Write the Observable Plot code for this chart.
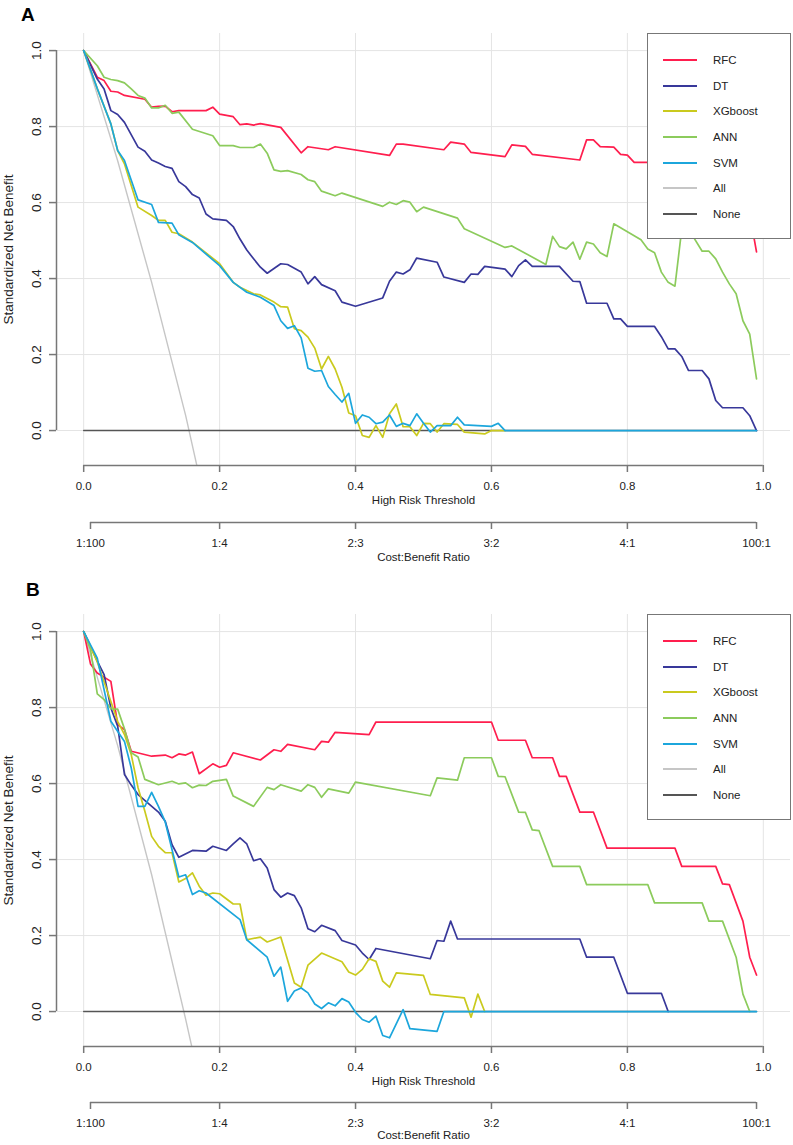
<!DOCTYPE html>
<html>
<head>
<meta charset="utf-8">
<script src="https://cdn.jsdelivr.net/npm/d3@7"></script>
<script src="https://cdn.jsdelivr.net/npm/@observablehq/plot@0.6"></script>
<style>
  html, body { margin: 0; padding: 0; background: #fff; }
  #root { position: relative; width: 793px; height: 1145px; font-family: "Liberation Sans", Arial, sans-serif; color: #222; }
  .panel { position: absolute; left: 0; }
  .tag { position: absolute; font-weight: bold; font-size: 19px; line-height: 1; color: #000; }
  .legend { position: absolute; box-sizing: border-box; background: #fff; border: 1.5px solid #777; }
  .legend .key { position: absolute; height: 0; }
  .legend .key .sw { position: absolute; left: 15px; width: 34px; top: -1px; height: 2px; }
  .legend .key .lb { position: absolute; left: 65px; top: -8px; font-size: 11.5px; line-height: 16px; color: #222; white-space: nowrap; }
</style>
</head>
<body>
<div id="root"></div>
<script>
// ---------- data ----------
const models = ["RFC", "DT", "XGboost", "ANN", "SVM", "All", "None"];
const colors = ["#FF1E4E", "#38389A", "#CACA1E", "#8CCB5C", "#1CA6DC", "#C6C6C6", "#555555"];

const xTicks = [0, 0.2, 0.4, 0.6, 0.8, 1.0];
const yTicks = [0, 0.2, 0.4, 0.6, 0.8, 1.0];
const costPos = [0.01, 0.2, 0.4, 0.6, 0.8, 0.99];
const costLabels = ["1:100", "1:4", "2:3", "3:2", "4:1", "100:1"];
const xDomain = [-0.04, 1.04];
const yDomain = [-0.092, 1.045];
const xTitle = "High Risk Threshold";
const costTitle = "Cost:Benefit Ratio";
const yTitle = "Standardized Net Benefit";

// Panel A: [threshold, standardized net benefit]
const rfcA = [[0,1],[0.02,0.93],[0.03,0.921],[0.04,0.893],[0.05,0.891],[0.06,0.882],[0.09,0.872],[0.10,0.851],[0.11,0.853],[0.12,0.854],[0.13,0.839],[0.14,0.842],[0.18,0.842],[0.19,0.851],[0.20,0.833],[0.22,0.826],[0.23,0.805],[0.24,0.807],[0.25,0.804],[0.26,0.808],[0.29,0.798],[0.32,0.731],[0.33,0.747],[0.36,0.739],[0.37,0.747],[0.45,0.724],[0.46,0.754],[0.47,0.754],[0.53,0.739],[0.54,0.759],[0.56,0.754],[0.57,0.732],[0.62,0.721],[0.63,0.752],[0.65,0.748],[0.66,0.727],[0.73,0.712],[0.74,0.765],[0.75,0.765],[0.76,0.747],[0.78,0.746],[0.79,0.727],[0.80,0.725],[0.81,0.706],[0.83,0.706],[0.86,0.70],[0.90,0.69],[0.94,0.66],[0.97,0.62],[0.985,0.52],[0.99,0.47]];
const dtA = [[0,1],[0.02,0.925],[0.03,0.899],[0.04,0.842],[0.05,0.832],[0.06,0.811],[0.08,0.746],[0.09,0.735],[0.10,0.712],[0.11,0.704],[0.12,0.695],[0.13,0.69],[0.14,0.655],[0.15,0.642],[0.16,0.621],[0.17,0.612],[0.18,0.57],[0.19,0.557],[0.21,0.553],[0.22,0.537],[0.23,0.504],[0.24,0.475],[0.25,0.452],[0.26,0.43],[0.27,0.414],[0.29,0.439],[0.30,0.437],[0.31,0.427],[0.32,0.417],[0.33,0.386],[0.34,0.405],[0.35,0.384],[0.37,0.368],[0.38,0.338],[0.40,0.327],[0.44,0.349],[0.45,0.393],[0.46,0.417],[0.47,0.412],[0.48,0.423],[0.49,0.454],[0.52,0.443],[0.53,0.404],[0.56,0.39],[0.57,0.412],[0.58,0.411],[0.59,0.432],[0.62,0.425],[0.63,0.405],[0.64,0.434],[0.65,0.449],[0.66,0.432],[0.70,0.432],[0.72,0.393],[0.73,0.392],[0.74,0.335],[0.77,0.335],[0.78,0.294],[0.79,0.294],[0.80,0.274],[0.84,0.274],[0.85,0.247],[0.86,0.215],[0.87,0.215],[0.88,0.195],[0.89,0.158],[0.91,0.158],[0.92,0.136],[0.93,0.079],[0.94,0.06],[0.97,0.06],[0.98,0.039],[0.99,0]];
const xgbA = [[0,1],[0.02,0.9],[0.04,0.807],[0.05,0.737],[0.06,0.702],[0.08,0.588],[0.10,0.566],[0.11,0.553],[0.12,0.553],[0.13,0.522],[0.14,0.518],[0.16,0.496],[0.20,0.439],[0.22,0.39],[0.23,0.377],[0.25,0.36],[0.26,0.357],[0.28,0.338],[0.29,0.326],[0.30,0.325],[0.31,0.268],[0.32,0.263],[0.33,0.246],[0.34,0.217],[0.35,0.162],[0.36,0.195],[0.37,0.162],[0.38,0.114],[0.39,0.046],[0.40,0.039],[0.41,-0.013],[0.42,-0.018],[0.43,0.013],[0.44,-0.018],[0.45,0.044],[0.46,0.07],[0.47,0.01],[0.48,0.01],[0.49,-0.013],[0.50,0.019],[0.51,0.018],[0.52,-0.004],[0.53,0.018],[0.55,0.016],[0.56,-0.004],[0.59,-0.009],[0.60,0],[0.62,0]];
const annA = [[0,1],[0.02,0.96],[0.03,0.93],[0.04,0.924],[0.05,0.921],[0.06,0.915],[0.07,0.899],[0.08,0.882],[0.09,0.875],[0.10,0.849],[0.11,0.849],[0.12,0.856],[0.13,0.835],[0.14,0.838],[0.16,0.793],[0.19,0.776],[0.20,0.75],[0.22,0.75],[0.23,0.745],[0.25,0.745],[0.26,0.754],[0.27,0.73],[0.28,0.686],[0.29,0.682],[0.30,0.684],[0.32,0.674],[0.33,0.66],[0.34,0.655],[0.35,0.63],[0.37,0.618],[0.38,0.625],[0.44,0.59],[0.45,0.601],[0.46,0.595],[0.47,0.605],[0.48,0.601],[0.49,0.576],[0.50,0.588],[0.55,0.559],[0.56,0.531],[0.62,0.482],[0.63,0.486],[0.68,0.437],[0.69,0.511],[0.70,0.484],[0.71,0.478],[0.72,0.496],[0.73,0.451],[0.74,0.496],[0.75,0.491],[0.76,0.468],[0.77,0.458],[0.78,0.544],[0.82,0.502],[0.83,0.478],[0.84,0.468],[0.85,0.417],[0.86,0.39],[0.87,0.38],[0.88,0.53],[0.89,0.53],[0.91,0.472],[0.92,0.472],[0.93,0.452],[0.94,0.417],[0.95,0.386],[0.96,0.36],[0.97,0.289],[0.98,0.254],[0.99,0.136]];
const svmA = [[0,1],[0.02,0.9],[0.04,0.807],[0.05,0.737],[0.06,0.711],[0.08,0.607],[0.10,0.595],[0.11,0.548],[0.13,0.546],[0.14,0.515],[0.16,0.495],[0.20,0.434],[0.22,0.39],[0.24,0.364],[0.26,0.351],[0.28,0.329],[0.29,0.289],[0.30,0.269],[0.31,0.276],[0.32,0.244],[0.33,0.164],[0.34,0.156],[0.35,0.158],[0.36,0.116],[0.37,0.095],[0.38,0.075],[0.39,0.098],[0.40,0.019],[0.41,0.041],[0.42,0.035],[0.43,0.018],[0.44,0.022],[0.45,0.041],[0.46,0.011],[0.47,0.019],[0.48,0.013],[0.49,0.044],[0.50,0.019],[0.51,-0.004],[0.52,0.013],[0.54,0.013],[0.55,0.035],[0.56,0.015],[0.60,0.011],[0.61,0.019],[0.62,0],[0.99,0]];
const allA = [[0,1],[0.05,0.71],[0.10,0.39],[0.15,0.04],[0.17,-0.12]];
const noneA = [[0,0],[0.99,0]];

// Panel B
const rfcB = [[0,1],[0.01,0.915],[0.02,0.891],[0.04,0.869],[0.05,0.755],[0.06,0.742],[0.07,0.685],[0.10,0.672],[0.12,0.675],[0.13,0.668],[0.14,0.678],[0.15,0.675],[0.16,0.683],[0.17,0.626],[0.19,0.652],[0.20,0.643],[0.21,0.648],[0.22,0.681],[0.26,0.662],[0.28,0.689],[0.29,0.685],[0.30,0.703],[0.34,0.689],[0.35,0.711],[0.36,0.709],[0.37,0.735],[0.42,0.729],[0.43,0.762],[0.60,0.762],[0.61,0.714],[0.65,0.714],[0.66,0.668],[0.69,0.668],[0.70,0.619],[0.71,0.619],[0.73,0.525],[0.75,0.525],[0.77,0.43],[0.87,0.43],[0.88,0.382],[0.93,0.382],[0.94,0.336],[0.95,0.334],[0.97,0.238],[0.98,0.143],[0.99,0.096]];
const dtB = [[0,1],[0.02,0.922],[0.03,0.887],[0.04,0.799],[0.05,0.751],[0.06,0.624],[0.07,0.596],[0.08,0.571],[0.11,0.525],[0.12,0.501],[0.13,0.439],[0.14,0.406],[0.16,0.424],[0.18,0.422],[0.19,0.435],[0.21,0.424],[0.22,0.441],[0.23,0.457],[0.24,0.441],[0.25,0.397],[0.26,0.402],[0.27,0.378],[0.28,0.321],[0.29,0.301],[0.30,0.312],[0.31,0.305],[0.32,0.273],[0.33,0.218],[0.34,0.21],[0.35,0.227],[0.37,0.213],[0.38,0.187],[0.40,0.175],[0.41,0.154],[0.42,0.137],[0.43,0.166],[0.51,0.139],[0.52,0.187],[0.53,0.185],[0.54,0.238],[0.55,0.191],[0.73,0.191],[0.74,0.143],[0.78,0.143],[0.80,0.048],[0.85,0.048],[0.86,0]];
const xgbB = [[0,1],[0.02,0.92],[0.05,0.764],[0.06,0.729],[0.07,0.676],[0.08,0.589],[0.09,0.527],[0.10,0.461],[0.11,0.435],[0.12,0.418],[0.13,0.418],[0.14,0.341],[0.15,0.35],[0.16,0.365],[0.17,0.33],[0.18,0.306],[0.19,0.312],[0.20,0.31],[0.22,0.283],[0.23,0.283],[0.24,0.189],[0.26,0.196],[0.27,0.183],[0.29,0.196],[0.31,0.075],[0.32,0.064],[0.33,0.122],[0.35,0.154],[0.38,0.131],[0.39,0.104],[0.40,0.096],[0.41,0.111],[0.42,0.139],[0.43,0.132],[0.44,0.08],[0.45,0.064],[0.46,0.102],[0.50,0.095],[0.51,0.045],[0.56,0.036],[0.57,-0.015],[0.58,0.046],[0.59,0]];
const annB = [[0,1],[0.01,0.953],[0.02,0.836],[0.03,0.821],[0.04,0.797],[0.05,0.796],[0.06,0.744],[0.07,0.681],[0.08,0.67],[0.09,0.611],[0.11,0.597],[0.13,0.606],[0.14,0.599],[0.15,0.602],[0.16,0.589],[0.17,0.596],[0.18,0.595],[0.19,0.606],[0.21,0.611],[0.22,0.567],[0.25,0.54],[0.27,0.59],[0.28,0.584],[0.29,0.597],[0.32,0.58],[0.33,0.597],[0.34,0.59],[0.35,0.564],[0.36,0.586],[0.39,0.575],[0.40,0.604],[0.51,0.568],[0.52,0.615],[0.55,0.609],[0.56,0.668],[0.60,0.668],[0.61,0.619],[0.62,0.618],[0.64,0.525],[0.65,0.524],[0.66,0.478],[0.67,0.476],[0.69,0.382],[0.73,0.382],[0.74,0.334],[0.83,0.334],[0.84,0.286],[0.91,0.286],[0.92,0.238],[0.94,0.238],[0.96,0.143],[0.97,0.046],[0.98,0]];
const svmB = [[0,1],[0.02,0.93],[0.04,0.764],[0.06,0.711],[0.07,0.641],[0.08,0.54],[0.09,0.54],[0.10,0.577],[0.11,0.54],[0.12,0.499],[0.13,0.426],[0.14,0.354],[0.15,0.36],[0.16,0.308],[0.17,0.318],[0.18,0.312],[0.23,0.242],[0.24,0.189],[0.27,0.143],[0.28,0.093],[0.29,0.117],[0.30,0.027],[0.31,0.054],[0.32,0.062],[0.33,0.049],[0.34,0.02],[0.35,0.008],[0.36,0.023],[0.37,0.015],[0.38,0.034],[0.39,0.025],[0.40,-0.002],[0.41,-0.021],[0.42,-0.028],[0.43,-0.012],[0.44,-0.063],[0.45,-0.069],[0.47,0.005],[0.48,-0.045],[0.52,-0.052],[0.53,0],[0.99,0]];
const allB = [[0,1],[0.05,0.70],[0.10,0.36],[0.15,-0.02],[0.165,-0.14]];
const noneB = [[0,0],[0.99,0]];

// ---------- drawing ----------
const FONT = "'Liberation Sans', Arial, sans-serif";
const root = document.getElementById("root");

function panel({series, top, height, marginBottom, xTitleDy, costDy, costTitleDy, tag, tagLeft, tagTop}) {
  // draw order: All, None, then models
  const order = [5, 6, 0, 1, 2, 3, 4];
  const axisStyle = {stroke: "#777", strokeWidth: 1.5};
  const chart = Plot.plot({
    width: 793,
    height,
    marginTop: 33,
    marginBottom,
    marginLeft: 56,
    marginRight: 3,
    style: {fontFamily: FONT, fontSize: "11.5px", color: "#222", background: "transparent", overflow: "visible"},
    x: {domain: xDomain, label: null},
    y: {domain: yDomain, label: null},
    marks: [
      Plot.gridX(xTicks, {stroke: "#e4e4e4", strokeOpacity: 1}),
      Plot.gridY(yTicks, {stroke: "#e4e4e4", strokeOpacity: 1}),
      ...order.map(i => Plot.line(series[i], {x: d => d[0], y: d => d[1], stroke: colors[i], strokeWidth: i === 5 || i === 6 ? 1.4 : 1.7, clip: true})),
      // y axis
      Plot.ruleX([xDomain[0]], {y1: yTicks[0], y2: yTicks[yTicks.length - 1], ...axisStyle}),
      Plot.axisY(yTicks, {anchor: "left", tickSize: 7, tickRotate: -90, tickPadding: 9, fontSize: 13.5, fill: "#222", ...axisStyle, tickFormat: d3.format(".1f"), label: null}),
      Plot.text([yTitle], {frameAnchor: "left", textAnchor: "middle", dx: -48, rotate: -90, fontSize: 13.5, fill: "#222"}),
      // primary x axis
      Plot.ruleY([yDomain[0]], {x1: xTicks[0], x2: xTicks[xTicks.length - 1], ...axisStyle}),
      Plot.axisX(xTicks, {anchor: "bottom", tickSize: 7, tickPadding: 9, fill: "#222", ...axisStyle, tickFormat: d3.format(".1f"), label: null}),
      Plot.text([xTitle], {frameAnchor: "bottom", dy: xTitleDy, fill: "#222"}),
      // cost:benefit axis
      Plot.ruleY([yDomain[0]], {x1: costPos[0], x2: costPos[costPos.length - 1], dy: costDy, ...axisStyle}),
      Plot.axisX(costPos, {anchor: "bottom", dy: costDy, tickSize: 7, tickPadding: 9, fill: "#222", ...axisStyle, tickFormat: d => costLabels[costPos.indexOf(d)], label: null}),
      Plot.text([costTitle], {frameAnchor: "bottom", dy: costTitleDy, fill: "#222"})
    ]
  });
  const wrap = document.createElement("div");
  wrap.className = "panel";
  wrap.style.top = top + "px";
  wrap.appendChild(chart);
  root.appendChild(wrap);

  const t = document.createElement("div");
  t.className = "tag";
  t.textContent = tag;
  t.style.left = tagLeft + "px";
  t.style.top = tagTop + "px";
  root.appendChild(t);

  // legend box
  const lg = document.createElement("div");
  lg.className = "legend";
  lg.style.left = "647px";
  lg.style.top = (top + 33) + "px";
  lg.style.width = "144px";
  lg.style.height = "206px";
  models.forEach((m, i) => {
    const k = document.createElement("div");
    k.className = "key";
    k.style.top = (26 + i * 25.67) + "px";
    k.style.left = "0px";
    const sw = document.createElement("div");
    sw.className = "sw";
    sw.style.background = colors[i];
    const lb = document.createElement("div");
    lb.className = "lb";
    lb.textContent = m;
    k.appendChild(sw);
    k.appendChild(lb);
    lg.appendChild(k);
  });
  root.appendChild(lg);
}

panel({series: [rfcA, dtA, xgbA, annA, svmA, allA, noneA], top: 0, height: 575, marginBottom: 110,
       xTitleDy: 38, costDy: 57, costTitleDy: 95, tag: "A", tagLeft: 21, tagTop: 5});
panel({series: [rfcB, dtB, xgbB, annB, svmB, allB, noneB], top: 581, height: 564, marginBottom: 99,
       xTitleDy: 38, costDy: 56, costTitleDy: 92, tag: "B", tagLeft: 26, tagTop: 580});
</script>
</body>
</html>
